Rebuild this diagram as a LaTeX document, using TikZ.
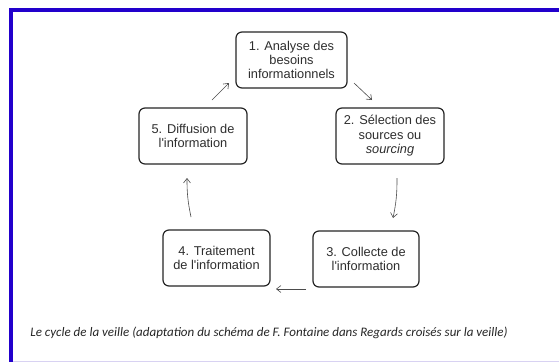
\documentclass[tikz,border=0pt]{standalone}
\usepackage{fontspec}
\setmainfont{Liberation Sans}
\newfontfamily\capfont{Carlito}
\usetikzlibrary{arrows.meta}
\definecolor{frameblue}{HTML}{2200CC}
\definecolor{lav}{HTML}{D8D2F2}
\definecolor{txt}{HTML}{2E2E2E}
\begin{document}
\begin{tikzpicture}[x=1pt,y=-1pt,
  box/.style={draw=black!85,line width=1.2pt,rounded corners=6pt,align=center,
    text=txt,font=\fontsize{12.8}{14.4}\selectfont,inner sep=0pt},
  conn/.style={draw=black!70,line width=0.6pt,-{Straight Barb[length=4.5pt,width=7pt]}}]
\useasboundingbox (0,0) rectangle (559,362);
\fill[white] (0,0) rectangle (559,362);
% frame
\draw[lav,line width=1pt] (11,361.5) -- (559,361.5);
\fill[frameblue] (9,8) rectangle (559,12);
\fill[frameblue] (9,8) rectangle (13,362);
% boxes
\node[box,minimum width=111pt,minimum height=56pt] (b1) at (291.5,60) {1. Analyse des\\besoins\\informationnels};
\node[box,minimum width=108pt,minimum height=56pt] (b2) at (390,136) {2. S\'election des\\sources ou\\\textit{sourcing}};
\node[box,minimum width=106pt,minimum height=56pt] (b3) at (366,259) {3. Collecte de\\l\textquotesingle information};
\node[box,minimum width=107pt,minimum height=56pt] (b4) at (216.5,258) {4. Traitement\\de l\textquotesingle information};
\node[box,minimum width=108pt,minimum height=56pt] (b5) at (193,136) {5. Diffusion de\\l\textquotesingle information};
% arrow ends
\coordinate (a1s) at (354,83);  \coordinate (a1e) at (372,100);
\coordinate (a2s) at (397,178); \coordinate (a2e) at (393,218);
\coordinate (a3s) at (306,289); \coordinate (a3e) at (276,289);
\coordinate (a4s) at (191,217); \coordinate (a4e) at (187,178);
\coordinate (a5s) at (212,100); \coordinate (a5e) at (229,83);
\draw[conn] (a1s) -- (a1e);
\draw[conn] (a2s) to[bend left=6] (a2e);
\draw[conn] (a3s) -- (a3e);
\draw[conn] (a4s) to[bend left=6] (a4e);
\draw[conn] (a5s) -- (a5e);
% caption
\node[text=black!85,font=\capfont\itshape\fontsize{13}{15}\selectfont,inner sep=0pt] (cap) at (269,333)
  {Le cycle de la veille (adaptation du sch\'ema de F. Fontaine dans Regards crois\'es sur la veille)};
\end{tikzpicture}
\end{document}
